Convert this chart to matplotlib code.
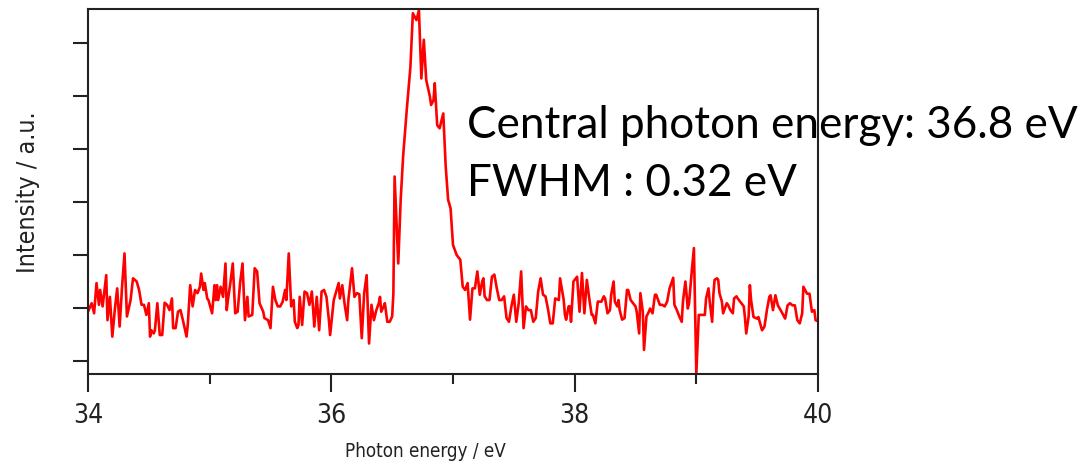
import matplotlib
matplotlib.use("Agg")
import matplotlib.pyplot as plt
from matplotlib.ticker import MultipleLocator

# 読み取った値 (photon energy / eV, intensity / a.u.)
energy_low = [34.00, 34.03, 34.05, 34.07, 34.09, 34.10, 34.12, 34.15, 34.16, 34.18,
              34.20, 34.22, 34.24, 34.26, 34.28, 34.30, 34.32, 34.35, 34.37, 34.40,
              34.42, 34.44, 34.46, 34.48, 34.50, 34.51, 34.52, 34.54, 34.55, 34.57,
              34.59, 34.61, 34.63, 34.65, 34.67, 34.69, 34.70, 34.72, 34.74, 34.76,
              34.78, 34.81, 34.82, 34.84, 34.86, 34.88, 34.90, 34.92, 34.93, 34.95,
              34.96, 34.98, 34.99, 35.02, 35.04, 35.05, 35.06, 35.07, 35.09, 35.11,
              35.13, 35.14, 35.15, 35.17, 35.19, 35.21, 35.23, 35.25, 35.27, 35.29,
              35.31, 35.32, 35.35, 35.37, 35.39, 35.41, 35.44, 35.45, 35.48, 35.50,
              35.52, 35.54, 35.56, 35.58, 35.60, 35.62, 35.63, 35.65, 35.67, 35.69,
              35.70, 35.72, 35.73, 35.74, 35.76, 35.78, 35.80, 35.82, 35.84, 35.86,
              35.88, 35.90, 35.92, 35.94, 35.96, 35.98, 35.99, 36.02, 36.04, 36.06,
              36.07, 36.09, 36.11, 36.13, 36.14, 36.17, 36.19, 36.21, 36.23, 36.25,
              36.27, 36.29, 36.31, 36.33, 36.35, 36.37, 36.39, 36.40, 36.41, 36.43,
              36.44, 36.46, 36.48, 36.50]
intensity_low = [0.93, 1.09, 0.90, 1.47, 1.06, 1.34, 1.03, 1.62, 0.77, 1.21,
                 0.46, 0.96, 1.37, 0.65, 1.40, 2.03, 0.84, 1.15, 1.56, 1.50,
                 1.34, 1.06, 1.06, 0.87, 1.09, 0.46, 0.58, 0.52, 0.58, 1.09,
                 0.49, 0.49, 1.10, 1.06, 0.96, 1.18, 0.62, 0.62, 0.93, 0.96,
                 0.77, 0.46, 0.68, 1.43, 1.03, 1.34, 1.28, 1.40, 1.65, 1.34,
                 1.47, 1.18, 1.15, 0.90, 1.43, 1.15, 1.43, 1.15, 1.40, 1.21,
                 1.84, 0.96, 1.15, 1.47, 1.84, 0.90, 0.93, 1.47, 1.84, 0.77,
                 1.21, 0.84, 0.87, 1.75, 1.69, 1.09, 0.93, 0.81, 0.77, 0.62,
                 1.40, 1.15, 1.03, 1.03, 1.12, 1.34, 1.15, 2.03, 1.03, 1.15,
                 0.74, 0.62, 0.68, 1.21, 0.68, 1.31, 1.28, 1.06, 1.31, 0.65,
                 1.21, 0.58, 1.31, 1.34, 1.21, 0.77, 0.49, 1.15, 1.31, 1.47,
                 1.18, 1.43, 1.06, 0.77, 1.15, 1.75, 1.21, 1.28, 1.26, 0.43,
                 1.28, 1.62, 0.33, 1.06, 0.77, 0.96, 1.09, 1.21, 0.93, 1.03,
                 1.09, 0.74, 0.74, 0.84]

energy_peak = [36.51, 36.52, 36.55, 36.57, 36.59, 36.62, 36.65, 36.67, 36.70, 36.72,
               36.74, 36.76, 36.78, 36.81, 36.82, 36.84, 36.85, 36.87, 36.89, 36.92,
               36.94, 36.96, 36.98, 37.00, 37.03, 37.06, 37.08, 37.10, 37.12]
intensity_peak = [1.28, 3.48, 1.84, 3.04, 3.86, 4.74, 5.55, 6.56, 6.43, 6.62,
                  5.33, 6.06, 5.30, 4.99, 4.83, 4.92, 5.24, 4.45, 4.39, 4.67,
                  3.67, 3.04, 2.88, 2.19, 2.00, 1.91, 1.40, 1.34, 1.47]

energy_mid = [37.14, 37.16, 37.18, 37.20, 37.22, 37.24, 37.25, 37.26, 37.28, 37.30,
              37.32, 37.34, 37.36, 37.38, 37.40, 37.42, 37.44, 37.46, 37.48, 37.50,
              37.52, 37.54, 37.56, 37.58, 37.60, 37.62, 37.64, 37.66, 37.68, 37.70,
              37.72, 37.74, 37.76, 37.78, 37.80, 37.82, 37.84,
              37.87, 37.88, 37.91, 37.92, 37.93, 37.95, 37.96, 37.97, 37.99, 38.02,
              38.04, 38.06, 38.08, 38.09, 38.10, 38.12, 38.14, 38.15, 38.17, 38.19,
              38.22, 38.24, 38.25, 38.27, 38.29, 38.30, 38.32, 38.33, 38.35, 38.36,
              38.37, 38.39, 38.41, 38.43, 38.44, 38.46, 38.48, 38.50, 38.51, 38.53,
              38.54, 38.56, 38.57, 38.59, 38.61, 38.62, 38.64, 38.66]
intensity_mid = [0.78, 1.37, 1.37, 1.69, 1.25, 1.50, 1.56, 1.22, 1.15, 1.15,
                 1.59, 1.63, 1.37, 1.15, 1.15, 1.22, 0.81, 0.74, 1.03, 1.25,
                 0.74, 1.09, 1.69, 0.62, 1.03, 0.96, 0.96, 0.74, 0.81, 1.31,
                 1.56, 1.25, 1.22, 0.99, 0.71, 0.71, 1.18,
                 1.15, 1.56, 1.15, 0.87, 0.78, 1.03, 1.03, 0.74, 1.50, 1.59,
                 0.93, 1.66, 0.90, 1.22, 1.53, 1.18, 0.87, 0.87, 0.71, 1.12,
                 1.12, 1.22, 1.18, 0.90, 0.96, 1.25, 1.50, 1.12, 1.03, 1.15,
                 0.96, 0.78, 0.81, 1.34, 1.34, 1.15, 1.09, 1.03, 0.93, 0.52,
                 1.28, 0.93, 0.21, 0.84, 0.93, 0.99, 0.90, 1.25]

energy_high = [38.67, 38.70, 38.72, 38.74, 38.76, 38.78, 38.81, 38.82, 38.84, 38.86,
               38.88, 38.89, 38.91, 38.93, 38.94, 38.96, 38.98, 39.00, 39.02, 39.04,
               39.07, 39.08, 39.10, 39.11, 39.13, 39.14, 39.15, 39.17, 39.18, 39.19,
               39.21, 39.22, 39.25, 39.26, 39.28, 39.30, 39.31, 39.33, 39.34, 39.37,
               39.39, 39.40, 39.41, 39.43,
               39.44, 39.45, 39.47, 39.50, 39.51, 39.54, 39.56, 39.58, 39.60, 39.61,
               39.63, 39.65, 39.67, 39.70, 39.73, 39.75, 39.77, 39.79, 39.81, 39.83,
               39.85, 39.87, 39.88, 39.91, 39.93, 39.95, 39.97, 39.98, 40.00]
intensity_high = [1.25, 1.06, 1.06, 1.03, 1.12, 1.37, 1.57, 1.06, 0.96, 0.84,
                  0.74, 1.12, 1.50, 0.99, 1.09, 1.63, 2.13, -0.23, 0.87, 0.87,
                  0.87, 1.18, 1.37, 1.12, 0.74, 1.25, 1.53, 1.56, 1.53, 1.28,
                  1.12, 0.90, 1.09, 1.06, 0.96, 0.90, 1.18, 1.22, 1.18, 1.09,
                  1.03, 0.81, 0.52, 0.84,
                  1.43, 1.15, 0.83, 0.80, 0.83, 0.58, 0.65, 0.96, 1.21, 1.24,
                  0.96, 1.24, 1.05, 0.93, 0.80, 1.05, 1.09, 1.05, 1.05, 0.77,
                  0.71, 0.90, 1.40, 1.27, 1.27, 0.93, 0.96, 0.77, 0.75]

x_major = [34, 36, 38, 40]
note_lines = ["Central photon energy: 36.8 eV", "FWHM : 0.32 eV"]

energy = energy_low + energy_peak + energy_mid + energy_high
intensity = intensity_low + intensity_peak + intensity_mid + intensity_high

W, H = 1081, 465
fig = plt.figure(figsize=(W / 100, H / 100), dpi=100)
ax = fig.add_axes([88 / W, 1 - 374 / H, (818 - 88) / W, (374 - 9) / H])

ax.plot(energy, intensity, color="#ff0000", lw=1.9)

ax.set_xlim(34, 40)
ax.set_ylim(-0.245, 6.64)
ax.set_xticks(x_major)
ax.xaxis.set_minor_locator(MultipleLocator(1))
ax.set_yticks(range(0, 7))
ax.set_yticklabels([])

dark = "#222222"
for s in ax.spines.values():
    s.set_linewidth(1.5)
    s.set_color(dark)
ax.tick_params(axis="x", which="major", direction="out", length=13, width=1.5,
               color=dark, labelsize=19, pad=8, labelcolor=dark)
ax.tick_params(axis="x", which="minor", direction="out", length=7, width=1.5, color=dark)
ax.tick_params(axis="y", direction="out", length=11, width=1.5, color=dark)
for lab in ax.get_xticklabels():
    lab.set_fontstretch("condensed")

fig.text(425 / W, 1 - 451 / H, "Photon energy / eV", ha="center", va="center",
         fontsize=13.5, color=dark, fontstretch="condensed")
fig.text(28 / W, 1 - 192 / H, "Intensity / a.u.", ha="center", va="center",
         rotation=90, fontsize=18, color=dark, fontstretch="condensed")

# 注記
fig.text(467 / W, 1 - 138 / H, note_lines[0], ha="left", va="baseline",
         fontsize=31.7, family="Lato", color="black")
fig.text(467 / W, 1 - 196 / H, note_lines[1], ha="left", va="baseline",
         fontsize=31.7, family="Lato", color="black")

fig.savefig("out.png", dpi=100)
